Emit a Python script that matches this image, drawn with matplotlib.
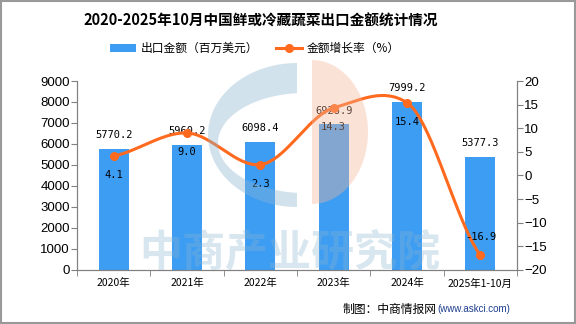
import numpy as np
import matplotlib
matplotlib.use("Agg")
import matplotlib.pyplot as plt
from matplotlib.patches import Polygon

plt.rcParams['font.family'] = ['Noto Sans CJK SC', 'DejaVu Sans']

years = ['2020年', '2021年', '2022年', '2023年', '2024年', '2025年1-10月']
amount = [5770.2, 5960.2, 6098.4, 6928.9, 7999.2, 5377.3]
growth = [4.1, 9.0, 2.3, 14.3, 15.4, -16.9]

bar_color = '#3d9df3'
line_color = '#ff6a1f'
axis_color = '#808080'


def smooth_line(x, y, tension=0.65, n=40):
    # Hermite smoothing with damped Catmull-Rom tangents
    x = np.asarray(x, float)
    y = np.asarray(y, float)
    m = np.gradient(y, x) * tension
    xs, ys = [], []
    for i in range(len(x) - 1):
        t = np.linspace(0, 1, n)
        h = x[i + 1] - x[i]
        h00 = 2 * t**3 - 3 * t**2 + 1
        h10 = t**3 - 2 * t**2 + t
        h01 = -2 * t**3 + 3 * t**2
        h11 = t**3 - t**2
        xs.append(x[i] + t * h)
        ys.append(h00 * y[i] + h10 * h * m[i] + h01 * y[i + 1] + h11 * h * m[i + 1])
    return np.concatenate(xs), np.concatenate(ys)


def ellipse_pts(cx, cy, rx, ry, a0, a1, n=80):
    a = np.radians(np.linspace(a0, a1, n))
    return np.column_stack([cx + rx * np.cos(a), cy + ry * np.sin(a)])


fig = plt.figure(figsize=(5.76, 3.24), dpi=100)
ax = fig.add_axes([0.1337, 0.1667, 0.764, 0.5833])
ax2 = ax.twinx()

x = np.arange(len(years))

ax.bar(x, amount, width=0.41, color=bar_color, label='出口金额（百万美元）', zorder=2)
ax.set_ylim(0, 9000)
ax.set_yticks(np.arange(0, 9001, 1000))
ax.set_xlim(-0.5, len(years) - 0.5)
ax.set_xticks(x)
ax.set_xticklabels(years, fontsize=7.5)
ax.set_xticks(np.arange(-0.5, len(years), 1), minor=True)
ax.tick_params(axis='x', which='major', length=0, pad=6)
ax.tick_params(axis='x', which='minor', length=4, color=axis_color)
ax.tick_params(axis='y', length=4, color=axis_color, pad=1)
for lab in ax.get_yticklabels():
    lab.set_fontfamily('Liberation Sans')
    lab.set_fontsize(9.5)
ax.patch.set_alpha(0)

for xi, v in zip(x, amount):
    ax.text(xi, v + 650, f'{v:.1f}', ha='center', va='center', fontsize=7.5,
            family='DejaVu Sans Mono', zorder=5)

xs, ys = smooth_line(x, growth)
ax2.plot(xs, ys, color=line_color, lw=2.2, zorder=3)
ax2.plot(x, growth, 'o', color=line_color, ms=5.5, zorder=4)
ax2.plot([], [], color=line_color, lw=2.2, marker='o', ms=5.5, label='金额增长率（%）')
ax2.set_ylim(-20, 20)
ax2.set_yticks(np.arange(-20, 21, 5))
ax2.tick_params(axis='y', length=4, color=axis_color, pad=1)
for lab in ax2.get_yticklabels():
    lab.set_fontfamily('Liberation Sans')
    lab.set_fontsize(9.5)

for xi, v in zip(x, growth):
    off = 3.8 if v < 0 else -4.0
    ax2.text(xi, v + off, f'{v:.1f}', ha='center', va='center', fontsize=7.5,
             family='DejaVu Sans Mono', zorder=5)

for a in (ax, ax2):
    a.spines['top'].set_visible(False)
    for s in ('left', 'right', 'bottom'):
        a.spines[s].set_color(axis_color)

# watermark logo + text, drawn over the plot with transparency (pixel coords)
px = fig.dpi_scale_trans


def P(pts):
    pts = np.asarray(pts, float)
    return np.column_stack([pts[:, 0] / 100, (324 - pts[:, 1]) / 100])


outer = ellipse_pts(297, 135, 89, 72, 90, 270)        # bottom -> left -> top
inner = ellipse_pts(305, 143, 87, 50, 264.7, 95.3)    # top -> left -> bottom
blue_c = np.vstack([outer, inner])
fig.patches.append(Polygon(P(blue_c), closed=True, transform=px, facecolor='#8ab5d2',
                           edgecolor='none', alpha=0.38, zorder=10))
orange = ellipse_pts(312, 132, 56, 72, -90, 90)
fig.patches.append(Polygon(P(orange), closed=True, transform=px, facecolor='#f5b598',
                           edgecolor='none', alpha=0.38, zorder=10))
fig.text(290 / 576, 1 - 252 / 324, '中商产业研究院', fontsize=31, fontweight='bold',
         color='#8ab5d2', alpha=0.33, ha='center', va='center', zorder=10)

fig.text(261 / 576, 0.935, '2020-2025年10月中国鲜或冷藏蔬菜出口金额统计情况', ha='center',
         va='center', fontsize=10.5, fontweight='bold')

h1, l1 = ax.get_legend_handles_labels()
h2, l2 = ax2.get_legend_handles_labels()
fig.legend(h1 + h2, l1 + l2, loc='center', bbox_to_anchor=(255 / 576, 0.85), ncol=2,
           frameon=False, fontsize=8.5, handlelength=2.2, columnspacing=1.5, handletextpad=0.4)

fig.text(0.758, 0.045, '制图：中商情报网', ha='right', va='center', fontsize=8.5)
fig.text(0.760, 0.045, '(www.askci.com)', ha='left', va='center', fontsize=7,
         color='#1f3f8f', family='Liberation Sans')

fig.patches.append(plt.Rectangle((0.001, 0.002), 0.997, 0.995, transform=fig.transFigure,
                                 fill=False, edgecolor='#999999', lw=1.5))

fig.savefig('out.png', dpi=100)
